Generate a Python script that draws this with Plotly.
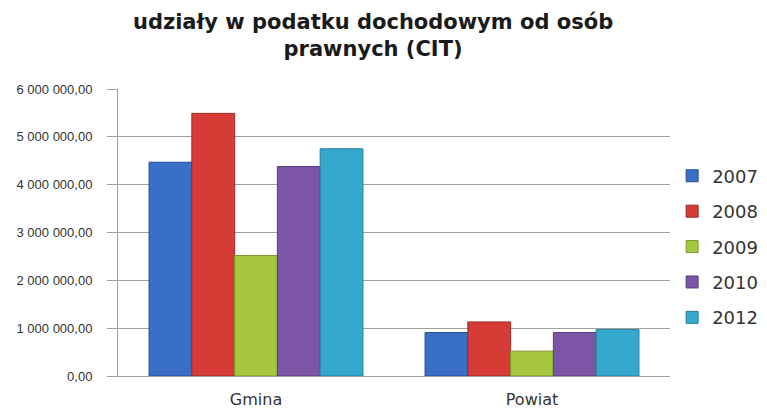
import plotly.graph_objects as go

categories = ["Gmina", "Powiat"]
years = ["2007", "2008", "2009", "2010", "2012"]
values_2007 = [4470000, 910000]
values_2008 = [5490000, 1130000]
values_2009 = [2520000, 520000]
values_2010 = [4380000, 910000]
values_2012 = [4750000, 970000]
tick_vals = [0, 1000000, 2000000, 3000000, 4000000, 5000000, 6000000]
tick_text = ["0,00", "1 000 000,00", "2 000 000,00", "3 000 000,00",
             "4 000 000,00", "5 000 000,00", "6 000 000,00"]

series = [values_2007, values_2008, values_2009, values_2010, values_2012]
colors = ["#3a6fc6", "#d63b36", "#a5c83f", "#7c56a6", "#34a9cd"]
edges = ["#274f93", "#9a2a26", "#7a962c", "#5a3e7c", "#23809c"]

fig = go.Figure()
for name, vals, c, e in zip(years, series, colors, edges):
    fig.add_trace(go.Bar(
        x=categories, y=vals, name=name, legendgroup=name,
        marker=dict(color=c, line=dict(color=e, width=1)),
    ))

# page body has an 8px default margin, so the figure is offset by 8px
fig.update_layout(
    width=759, height=401,
    paper_bgcolor="white", plot_bgcolor="white",
    margin=dict(l=110, r=97, t=81, b=33, autoexpand=False),
    barmode="group", bargap=0.225, bargroupgap=0,
    title=dict(
        text="<b>udziały w podatku dochodowym od osób<br>prawnych (CIT)</b>",
        x=0.481, xanchor="center", y=0.948, yanchor="top",
        font=dict(family="DejaVu Sans", size=21, color="#1a1a1a"),
    ),
    font=dict(family="Liberation Sans, Arial", color="#333333"),
    showlegend=True,
    legend=dict(
        xref="container", yref="container",
        x=0.875, xanchor="left", y=0.627, yanchor="top",
        bgcolor="rgba(0,0,0,0)",
        font=dict(family="DejaVu Sans, Verdana", size=18, color="#333333"),
        tracegroupgap=9, traceorder="grouped",
        itemwidth=30,
    ),
)
fig.update_yaxes(
    range=[0, 6000000], tickvals=tick_vals, ticktext=tick_text,
    showgrid=True, gridcolor="#a0a0a0", gridwidth=1,
    showline=True, linecolor="#a0a0a0", linewidth=1,
    ticks="outside", ticklen=10, tickcolor="#a0a0a0",
    ticklabelstandoff=12,
    tickfont=dict(family="Liberation Sans, Arial", size=13, color="#333333"),
    zeroline=False, automargin=False,
)
fig.update_xaxes(
    showline=True, linecolor="#a0a0a0", linewidth=1,
    tickfont=dict(family="DejaVu Sans, Verdana", size=16, color="#333333"),
    ticks="", ticklabelstandoff=9, automargin=False,
)

fig.write_html("out.html")
